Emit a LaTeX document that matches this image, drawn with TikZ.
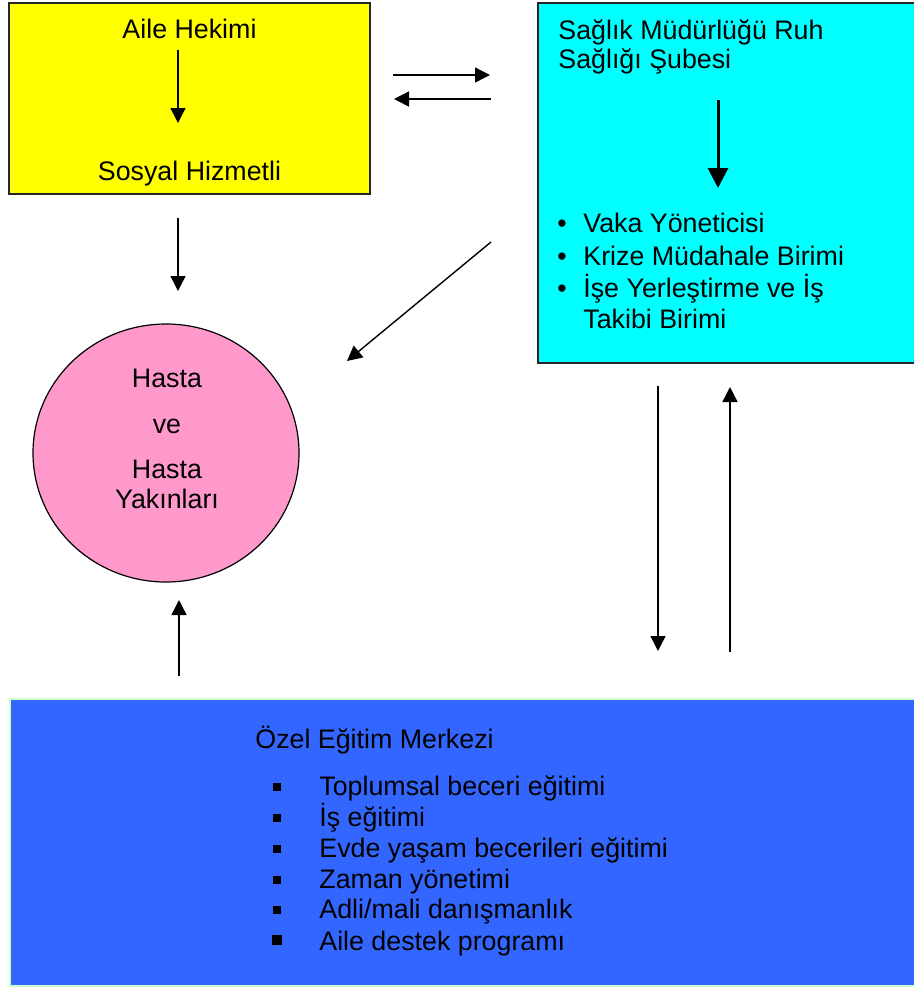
\documentclass[tikz,border=0pt]{standalone}
\usepackage{fontspec}
\setmainfont{Liberation Sans}
\usepackage{tikz}
\usetikzlibrary{arrows.meta,positioning,shapes.geometric}
\usepackage{xcolor}

\definecolor{boxyellow}{HTML}{FFFF00}
\definecolor{boxcyan}{HTML}{00FFFF}
\definecolor{boxpink}{HTML}{FF99CC}
\definecolor{boxblue}{HTML}{3366FF}
\definecolor{boxedge}{HTML}{CCFFCC}

\begin{document}
\begin{tikzpicture}[
    x=0.5pt, y=-0.5pt,
    panel/.style={rectangle, draw=black!85, line width=0.7pt, inner sep=0pt},
    patient/.style={ellipse, draw=black, line width=0.6pt, fill=boxpink, inner sep=0pt,
                    minimum width=133pt, minimum height=129pt},
    txt/.style={font=\fontsize{13.4}{16}\selectfont, inner sep=0pt, anchor=base},
    lefttxt/.style={txt, anchor=base west},
    arr/.style={-{Triangle[length=7.5pt, width=7.5pt]}, line width=0.7pt},
    bigarr/.style={-{Triangle[length=10pt, width=10pt]}, line width=1.5pt}
  ]

  %% Canvas
  \useasboundingbox (0,0) rectangle (914,987);

  %% Boxes
  \node[panel, fill=boxyellow, minimum width=180.5pt, minimum height=95.5pt] (aile) at (189.5,98.5) {};
  \node[panel, fill=boxcyan, minimum width=190pt, minimum height=180pt] (sube) at (728,183) {};
  \node[panel, draw=boxedge, fill=boxblue, minimum width=455pt, minimum height=143.5pt] (ozel) at (465,842.5) {};
  \node[patient] (hasta) at (166,453) {};

  %% Yellow box texts
  \node[txt] (hekim) at (189.5,38) {Aile Hekimi};
  \node[txt] (sosyal) at (189.5,180) {Sosyal Hizmetli};

  %% Cyan box texts
  \node[lefttxt] (sube1) at (558,39) {Sağlık Müdürlüğü Ruh};
  \node[lefttxt] (sube2) at (558,68) {Sağlığı Şubesi};
  \foreach \y/\name/\lab in {232/vaka/Vaka Yöneticisi,
                             265/kriz/Krize Müdahale Birimi,
                             297/isyer/İşe Yerleştirme ve İş}{
    \node[lefttxt] (\name) at (557,\y) {\makebox[13pt][l]{•}\lab};
  }
  \node[lefttxt] (takip) at (583,328) {Takibi Birimi};

  %% Circle texts
  \node[txt] (h1) at (167,387) {Hasta};
  \node[txt] (h2) at (167,433) {ve};
  \node[txt] (h3) at (167,478) {Hasta};
  \node[txt] (h4) at (167,508) {Yakınları};

  %% Blue box texts
  \node[lefttxt] (merkez) at (255,748) {Özel Eğitim Merkezi};
  \foreach \y/\name/\lab in {795/top/{Toplumsal beceri eğitimi},
                             826/is/{İş eğitimi},
                             857/evde/{Evde yaşam becerileri eğitimi},
                             888/zaman/{Zaman yönetimi},
                             918/adli/{Adli/mali danışmanlık}}{
    \node[lefttxt] (\name) at (273,\y) {\makebox[23pt][l]{\rule[2pt]{4pt}{4pt}}\lab};
  }
  \node[lefttxt] (prog) at (272,950) {\makebox[23.5pt][l]{\rule[2.5pt]{5pt}{5pt}}Aile destek programı};

  %% Arrow end points
  \coordinate (a1s) at (178,50);   \coordinate (a1e) at (178,123);
  \coordinate (a2s) at (178,218);  \coordinate (a2e) at (178,291);
  \coordinate (a3s) at (393,75);   \coordinate (a3e) at (490,75);
  \coordinate (a4s) at (491,99);   \coordinate (a4e) at (394,99);
  \coordinate (a5s) at (718,100);  \coordinate (a5e) at (718,188);
  \coordinate (a6s) at (491,242);  \coordinate (a6e) at (347,361);
  \coordinate (a7s) at (179,676);  \coordinate (a7e) at (179,600);
  \coordinate (a8s) at (658,386);  \coordinate (a8e) at (658,651);
  \coordinate (a9s) at (730,652);  \coordinate (a9e) at (730,387);

  %% Connections
  \draw[arr] (a1s) -- (a1e);
  \draw[arr] (a2s) -- (a2e);
  \draw[arr] (a3s) -- (a3e);
  \draw[arr] (a4s) -- (a4e);
  \draw[bigarr] (a5s) -- (a5e);
  \draw[arr] (a6s) -- (a6e);
  \draw[arr] (a7s) -- (a7e);
  \draw[arr] (a8s) -- (a8e);
  \draw[arr] (a9s) -- (a9e);

\end{tikzpicture}
\end{document}
